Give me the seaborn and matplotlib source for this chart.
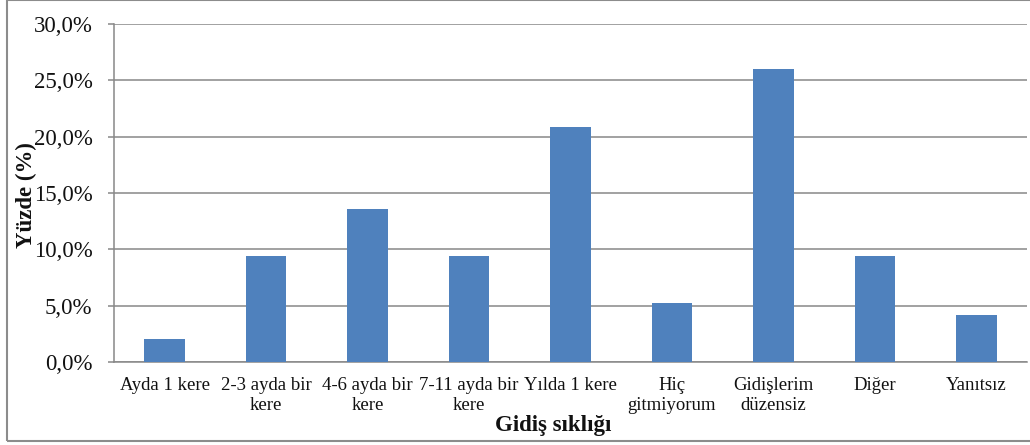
import matplotlib
matplotlib.use("Agg")
import matplotlib.pyplot as plt
import seaborn as sns
import pandas as pd
from matplotlib.patches import Rectangle
from matplotlib.ticker import FuncFormatter

categories = ["Ayda 1 kere", "2-3 ayda bir\nkere", "4-6 ayda bir\nkere", "7-11 ayda bir\nkere",
              "Yılda 1 kere", "Hiç\ngitmiyorum", "Gidişlerim\ndüzensiz", "Diğer", "Yanıtsız"]
values = [2.08, 9.38, 13.54, 9.38, 20.83, 5.21, 26.04, 9.38, 4.17]
y_ticks = [0, 5, 10, 15, 20, 25, 30]

df = pd.DataFrame({"cat": categories, "val": values})

sns.set_theme(style="white")
plt.rcParams['font.family'] = ['Liberation Serif', 'DejaVu Serif']

W, H = 1030, 445
fig = plt.figure(figsize=(W/100, H/100), dpi=100)
ax = fig.add_axes([114/W, 1-362/H, (1027-114)/W, (362-24)/H])

grid_c = "#888888"
sns.barplot(data=df, x="cat", y="val", color="#4F81BD", width=0.4, saturation=1,
            linewidth=0, ax=ax, zorder=3)

ax.set_ylim(0, 30)
ax.set_xlim(-0.5, len(categories)-0.5)
ax.set_yticks(y_ticks)
ax.yaxis.set_major_formatter(FuncFormatter(lambda v, p: f"{v:.1f}%".replace(".", ",")))
ax.grid(axis="y", color=grid_c, linewidth=1.1, zorder=0)
ax.set_axisbelow(True)
for s in ["top", "right"]:
    ax.spines[s].set_visible(False)
for s in ["left", "bottom"]:
    ax.spines[s].set_color(grid_c)
    ax.spines[s].set_linewidth(1.1)
ax.tick_params(axis="y", which="both", left=True, length=4.5, width=1.1, color=grid_c,
               labelsize=16.5, pad=11, labelcolor="#111111")
ax.tick_params(axis="x", bottom=False, labelsize=13.5, pad=5, labelcolor="#111111")
for t in ax.get_xticklabels():
    t.set_linespacing(1.2)

ax.set_ylabel("Yüzde (%)", fontsize=16.5, fontweight="bold", color="#111111")
ax.yaxis.set_label_coords(-0.084, 0.494)
ax.set_xlabel("Gidiş sıklığı", fontsize=16.5, fontweight="bold", color="#111111")
ax.xaxis.set_label_coords(0.481, -0.158)

fig.patches.append(Rectangle((7/W, 1-441/H), (W+20)/W, 441/H, transform=fig.transFigure,
                             fill=False, edgecolor="#8c8c8c", linewidth=1.5, zorder=0))

fig.savefig("out.png", dpi=100)
